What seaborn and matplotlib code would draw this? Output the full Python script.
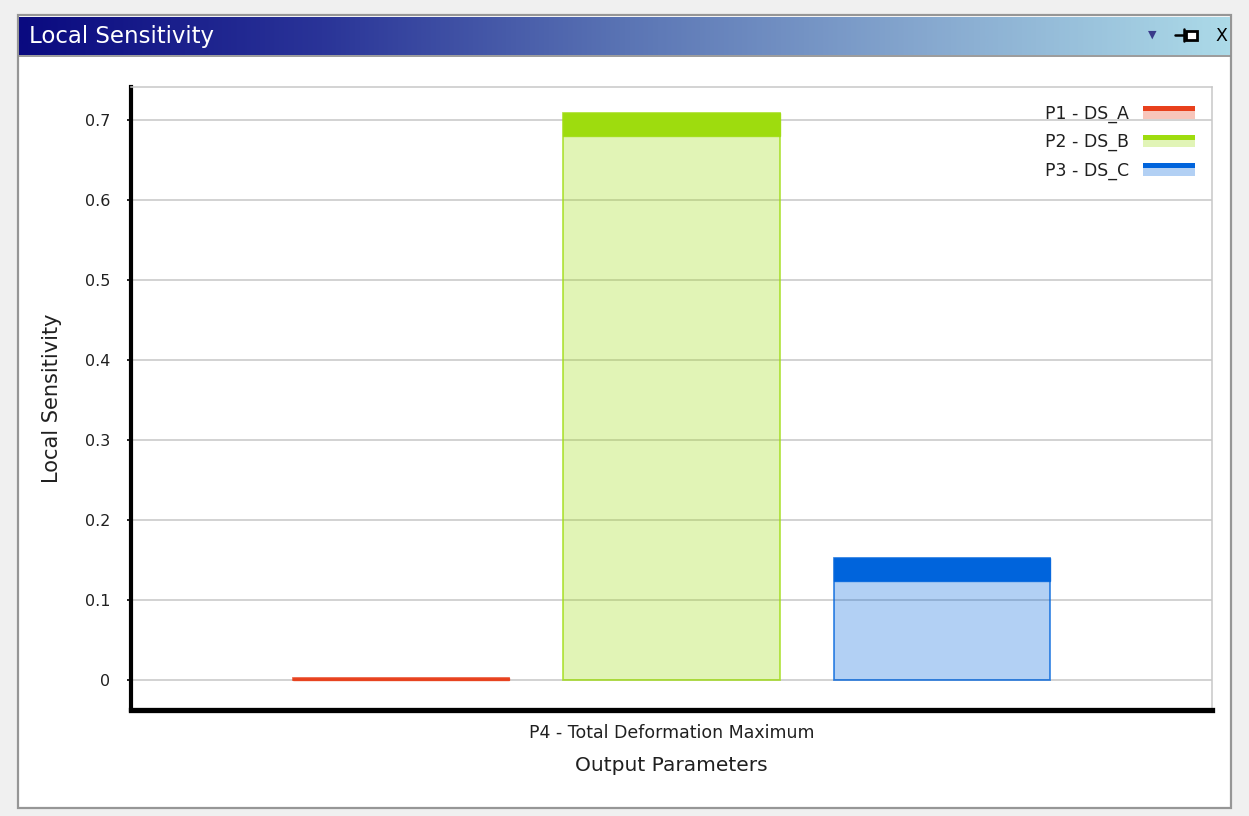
import numpy as np
import pandas as pd
import matplotlib
matplotlib.use("Agg")
import matplotlib.pyplot as plt
from matplotlib.patches import Rectangle, Patch
from matplotlib.lines import Line2D
from matplotlib.colors import to_rgba, LinearSegmentedColormap
from matplotlib.legend_handler import HandlerBase
from matplotlib.ticker import FuncFormatter
import seaborn as sns

# ---- data ----
output_names = ["P4 - Total Deformation Maximum"]
input_params = ["P1 - DS_A", "P2 - DS_B", "P3 - DS_C"]
sensitivity = [0.002, 0.709, 0.153]
param_colors = ["#e8401c", "#9edc0e", "#0064dc"]
y_ticks = [0.0, 0.1, 0.2, 0.3, 0.4, 0.5, 0.6, 0.7]

W, H = 1249, 816
sns.set_theme(style="white")
plt.rcParams["font.family"] = ["DejaVu Sans"]

fig = plt.figure(figsize=(W / 100, H / 100), dpi=100)
fig.patch.set_facecolor("#f0f0f0")


def fx(x):
    return x / W


def fy(y):
    return 1 - y / H


# window frame
fig.add_artist(Rectangle((fx(18), fy(808)), fx(1231) - fx(18), fy(15) - fy(808),
                         transform=fig.transFigure, facecolor="white",
                         edgecolor="#969696", lw=1.6, zorder=0))

# title bar with gradient
tb = fig.add_axes([fx(19), fy(55), fx(1230) - fx(19), fy(17) - fy(55)])
grad = LinearSegmentedColormap.from_list(
    "bar", ["#0a0a80", "#2a3498", "#5a74b4", "#86a8cf", "#acdae8"])
tb.imshow(np.linspace(0, 1, 512)[None, :], aspect="auto", cmap=grad,
          extent=(0, 1, 0, 1))
tb.set_axis_off()
fig.add_artist(Line2D([fx(19), fx(1230)], [fy(56), fy(56)], transform=fig.transFigure,
                      color="#8a8a8a", lw=1.2))
fig.text(fx(29), fy(36), "Local Sensitivity", color="white", fontsize=16.5,
         va="center", ha="left")
# title bar icons
fig.text(fx(1152), fy(35), "▼", color="#3a3a8a", fontsize=8, ha="center", va="center")
fig.add_artist(Line2D([fx(1175), fx(1184)], [fy(35), fy(35)], transform=fig.transFigure,
                      color="black", lw=1.8))
fig.add_artist(Line2D([fx(1184), fx(1184)], [fy(29), fy(41)], transform=fig.transFigure,
                      color="black", lw=1.8))
fig.add_artist(Rectangle((fx(1186), fy(40)), fx(1197) - fx(1186), fy(31) - fy(40),
                         transform=fig.transFigure, facecolor="white",
                         edgecolor="black", lw=2.0))
fig.text(fx(1221), fy(36), "X", color="black", fontsize=12.5,
         ha="center", va="center")

# plot area
ax = fig.add_axes([fx(131), fy(710), fx(1212) - fx(131), fy(87) - fy(710)])
ax.set_facecolor("white")

df = pd.DataFrame({
    "output": output_names * len(input_params),
    "param": input_params,
    "sensitivity": sensitivity,
})
sns.barplot(data=df, x="output", y="sensitivity", hue="param",
            palette=param_colors, saturation=1, width=0.75, gap=0.2,
            errorbar=None, legend=False, ax=ax, zorder=3)

ax.set_ylim(-0.0375, 0.741)
ax.set_xlim(-0.5, 0.5)

# each bar: translucent body with a solid band at its top
cap = 23 / 800
for patch, col in zip(ax.patches, param_colors):
    patch.set_facecolor(to_rgba(col, 0.3))
    patch.set_edgecolor(to_rgba(col, 0.75))
    patch.set_linewidth(1.3)
    x0, w, h = patch.get_x(), patch.get_width(), patch.get_height()
    ch = min(cap, h)
    ax.add_patch(Rectangle((x0, h - ch), w, ch, facecolor=col, edgecolor=to_rgba(col, 0.8),
                           lw=1.0, zorder=4))

# grid and spines
ax.set_yticks(y_ticks)
ax.yaxis.set_major_formatter(FuncFormatter(lambda v, _: "0" if abs(v) < 1e-9 else f"{v:.1f}"))
ax.yaxis.grid(True, color="#c6c6c6", lw=1.1, zorder=0)
ax.xaxis.grid(False)
ax.set_axisbelow(True)
for side in ("top", "right"):
    ax.spines[side].set_color("#c8c8c8")
    ax.spines[side].set_linewidth(1.1)
ax.spines["left"].set_color("black")
ax.spines["left"].set_linewidth(3.0)
ax.spines["bottom"].set_color("black")
ax.spines["bottom"].set_linewidth(3.8)
ax.tick_params(axis="y", which="major", left=True, length=3, width=1.2, color="black",
               pad=12, labelsize=11.5, labelcolor="#202020")
ax.tick_params(axis="x", which="major", bottom=False, length=0, pad=10,
               labelsize=12.5, labelcolor="#202020")
ax.set_xlabel("Output Parameters", fontsize=14.5, color="#202020", labelpad=10)
ax.set_ylabel("Local Sensitivity", fontsize=15, color="#202020", labelpad=16)


class CapSwatch(HandlerBase):
    def create_artists(self, legend, orig_handle, xdescent, ydescent, width, height,
                       fontsize, trans):
        col = orig_handle.get_facecolor()
        x0, y0 = -xdescent, -ydescent
        body = Rectangle((x0, y0), width, height * 0.62, facecolor=to_rgba(col, 0.3),
                         lw=0, transform=trans)
        top = Rectangle((x0, y0 + height * 0.62), width, height * 0.38, facecolor=col,
                        lw=0, transform=trans)
        return [body, top]


handles = [Patch(facecolor=c) for c in param_colors]
ax.legend(handles, input_params, handler_map={Patch: CapSwatch()},
          loc="upper right", bbox_to_anchor=(0.9843, 0.972), frameon=False,
          markerfirst=False, fontsize=12.5, handlelength=3.0, handleheight=0.75,
          handletextpad=0.8, labelspacing=0.6, borderpad=0, borderaxespad=0,
          labelcolor="#202020")

fig.savefig("out.png", dpi=100, facecolor=fig.get_facecolor())
